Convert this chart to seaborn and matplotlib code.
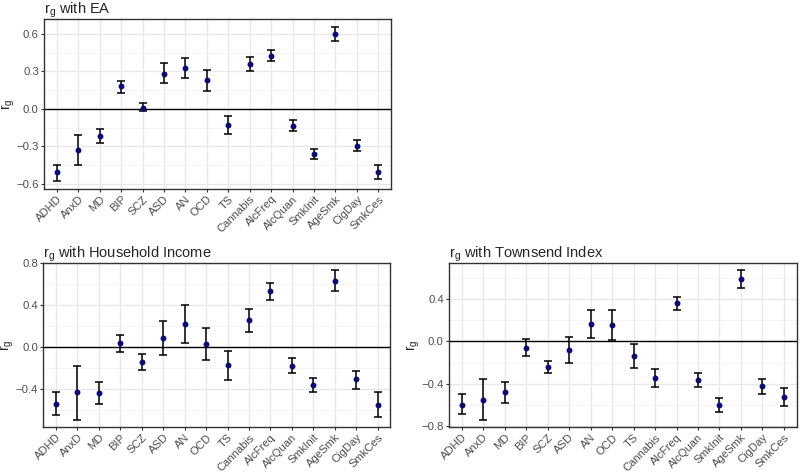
import numpy as np
import pandas as pd
import seaborn as sns
import matplotlib.pyplot as plt
from matplotlib.ticker import MultipleLocator

traits = ['ADHD', 'AnxD', 'MD', 'BIP', 'SCZ', 'ASD', 'AN', 'OCD', 'TS', 'Cannabis',
          'AlcFreq', 'AlcQuan', 'SmkInit', 'AgeSmk', 'CigDay', 'SmkCes']

# rg with EA
ea_rg = [-0.51, -0.33, -0.22, 0.18, 0.01, 0.28, 0.33, 0.23, -0.127, 0.36,
         0.425, -0.135, -0.365, 0.60, -0.295, -0.505]
ea_lo = [-0.58, -0.45, -0.275, 0.13, -0.02, 0.205, 0.25, 0.14, -0.20, 0.305,
         0.38, -0.175, -0.405, 0.545, -0.34, -0.565]
ea_hi = [-0.45, -0.21, -0.165, 0.22, 0.045, 0.37, 0.41, 0.31, -0.06, 0.42,
         0.47, -0.09, -0.325, 0.66, -0.25, -0.45]

# rg with household income
inc_rg = [-0.54, -0.43, -0.44, 0.037, -0.14, 0.087, 0.22, 0.03, -0.174, 0.255,
          0.534, -0.177, -0.357, 0.633, -0.307, -0.547]
inc_lo = [-0.65, -0.69, -0.54, -0.05, -0.215, -0.072, 0.043, -0.127, -0.314, 0.14,
          0.45, -0.25, -0.425, 0.537, -0.394, -0.66]
inc_hi = [-0.43, -0.18, -0.335, 0.12, -0.068, 0.25, 0.40, 0.186, -0.037, 0.363,
          0.61, -0.10, -0.29, 0.73, -0.224, -0.43]

# rg with Townsend index
tow_rg = [-0.60, -0.553, -0.48, -0.062, -0.238, -0.08, 0.16, 0.154, -0.142, -0.35,
          0.358, -0.368, -0.60, 0.587, -0.426, -0.522]
tow_lo = [-0.69, -0.74, -0.584, -0.136, -0.297, -0.20, 0.031, 0.012, -0.256, -0.436,
          0.297, -0.436, -0.667, 0.504, -0.494, -0.612]
tow_hi = [-0.50, -0.36, -0.386, 0.022, -0.19, 0.04, 0.293, 0.293, -0.028, -0.263,
          0.42, -0.30, -0.534, 0.67, -0.355, -0.439]

sns.set_theme(style='white')
plt.rcParams['font.family'] = ['Liberation Sans', 'DejaVu Sans']
plt.rcParams['mathtext.fontset'] = 'custom'
plt.rcParams['mathtext.rm'] = 'Liberation Sans'
plt.rcParams['mathtext.it'] = 'Liberation Sans'

fig = plt.figure(figsize=(8, 4.72), dpi=100)


def panel(rect, title, rg, lo, hi, step):
    ax = fig.add_axes(rect)
    df = pd.DataFrame({'trait': traits, 'rg': rg, 'lo': lo, 'hi': hi})
    ax.axhline(0, color='black', lw=1, zorder=1)
    ax.errorbar(df['trait'], df['rg'],
                yerr=[df['rg'] - df['lo'], df['hi'] - df['rg']],
                fmt='none', ecolor='black', elinewidth=1.1, capsize=3,
                capthick=1.1, zorder=2)
    sns.scatterplot(data=df, x='trait', y='rg', color='#0a0a78', s=18,
                    edgecolor='#0a0a78', linewidth=0, ax=ax, zorder=3)
    ymin, ymax = min(lo), max(hi)
    pad = (ymax - ymin) * 0.05
    ax.set_ylim(ymin - pad, ymax + pad)
    ax.set_xlim(-0.6, len(traits) - 0.4)
    ax.yaxis.set_major_locator(MultipleLocator(step))
    ax.yaxis.set_minor_locator(MultipleLocator(step / 2))
    ax.grid(True, which='major', color='#E8E8E8', lw=1, zorder=0)
    ax.grid(True, which='minor', axis='y', color='#F2F2F2', lw=0.6, zorder=0)
    ax.set_axisbelow(True)
    for s in ax.spines.values():
        s.set_color('#333333')
        s.set_linewidth(1)
    ax.tick_params(axis='both', which='major', length=2.5, width=0.8,
                   color='#333333', labelcolor='#4D4D4D', labelsize=8.1,
                   bottom=True, left=True, pad=1.2)
    ax.tick_params(which='minor', length=0)
    ax.yaxis.set_major_formatter(plt.FuncFormatter(lambda v, p: f'{v:.1f}'.replace('-', '\u2212')))
    plt.setp(ax.get_xticklabels(), rotation=45, ha='right', rotation_mode='anchor')
    ax.set_xlabel('')
    ax.set_ylabel(r'$\mathregular{r_g}$', fontsize=10)
    ax.yaxis.set_label_coords(-0.078, 0.5)
    ax.set_title(r'$\mathregular{r_g}$' + ' with ' + title, loc='left',
                 fontsize=10.5, pad=4)
    return ax


panel([0.055, 0.6, 0.434, 0.36], 'EA', ea_rg, ea_lo, ea_hi, 0.3)
panel([0.054, 0.095, 0.434, 0.348], 'Household Income', inc_rg, inc_lo, inc_hi, 0.4)
panel([0.561, 0.095, 0.435, 0.348], 'Townsend Index', tow_rg, tow_lo, tow_hi, 0.4)

fig.savefig('out.png', dpi=100, facecolor='white')
